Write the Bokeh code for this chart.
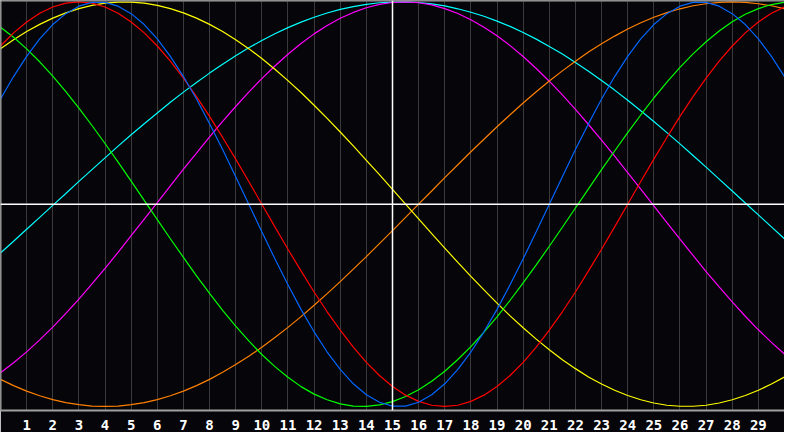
from bokeh.plotting import figure
from bokeh.models import ColumnDataSource, Span, FixedTicker
from bokeh.embed import file_html
from bokeh.resources import INLINE

# Half-day steps from day 0 to day 30, today is day 15
days = [d / 2 for d in range(61)]
day_ticks = list(range(1, 30))
today = 15

# Cycle values, every half day
physical = [0.520, 0.631, 0.731, 0.817, 0.888, 0.942, 0.979, 0.998, 0.998, 0.979,
            0.942, 0.888, 0.817, 0.731, 0.631, 0.520, 0.398, 0.270, 0.136, 0.000,
            -0.136, -0.270, -0.398, -0.520, -0.631, -0.731, -0.817, -0.888, -0.942, -0.979,
            -0.998, -0.998, -0.979, -0.942, -0.888, -0.817, -0.731, -0.631, -0.520, -0.398,
            -0.270, -0.136, 0.000, 0.136, 0.270, 0.398, 0.520, 0.631, 0.731, 0.817,
            0.888, 0.942, 0.979, 0.998, 0.998, 0.979, 0.942, 0.888, 0.817, 0.731,
            0.631]
emotional = [0.782, 0.847, 0.901, 0.944, 0.975, 0.994, 1.000, 0.994, 0.975, 0.944,
             0.901, 0.847, 0.782, 0.707, 0.623, 0.532, 0.434, 0.330, 0.223, 0.112,
             0.000, -0.112, -0.223, -0.330, -0.434, -0.532, -0.623, -0.707, -0.782, -0.847,
             -0.901, -0.944, -0.975, -0.994, -1.000, -0.994, -0.975, -0.944, -0.901, -0.847,
             -0.782, -0.707, -0.623, -0.532, -0.434, -0.330, -0.223, -0.112, 0.000, 0.112,
             0.223, 0.330, 0.434, 0.532, 0.623, 0.707, 0.782, 0.847, 0.901, 0.944,
             0.975]
intellectual = [0.875, 0.825, 0.768, 0.704, 0.633, 0.557, 0.475, 0.389, 0.300, 0.208,
                0.114, 0.019, -0.076, -0.171, -0.263, -0.354, -0.441, -0.525, -0.603, -0.676,
                -0.743, -0.803, -0.856, -0.902, -0.939, -0.967, -0.987, -0.998, -1.000, -0.992,
                -0.976, -0.951, -0.917, -0.875, -0.826, -0.768, -0.704, -0.633, -0.557, -0.475,
                -0.389, -0.300, -0.208, -0.114, -0.019, 0.076, 0.171, 0.263, 0.354, 0.441,
                0.525, 0.603, 0.676, 0.743, 0.803, 0.856, 0.902, 0.939, 0.967, 0.987,
                0.998]
intuitive = [-0.833, -0.784, -0.730, -0.671, -0.608, -0.540, -0.469, -0.394, -0.317, -0.238,
             -0.156, -0.074, 0.008, 0.091, 0.173, 0.253, 0.333, 0.409, 0.483, 0.554,
             0.621, 0.683, 0.741, 0.794, 0.842, 0.883, 0.919, 0.948, 0.971, 0.988,
             0.997, 1.000, 0.996, 0.985, 0.967, 0.943, 0.912, 0.875, 0.833, 0.784,
             0.730, 0.671, 0.608, 0.540, 0.469, 0.394, 0.317, 0.238, 0.156, 0.074,
             -0.008, -0.091, -0.173, -0.253, -0.333, -0.409, -0.483, -0.554, -0.621, -0.683,
             -0.741]
aesthetic = [0.769, 0.813, 0.854, 0.889, 0.920, 0.946, 0.967, 0.983, 0.994, 0.999,
             0.999, 0.994, 0.983, 0.967, 0.946, 0.920, 0.889, 0.854, 0.813, 0.769,
             0.720, 0.667, 0.611, 0.552, 0.489, 0.424, 0.357, 0.288, 0.217, 0.146,
             0.073, 0.000, -0.073, -0.146, -0.217, -0.288, -0.357, -0.424, -0.489, -0.552,
             -0.611, -0.667, -0.720, -0.769, -0.813, -0.854, -0.889, -0.920, -0.946, -0.967,
             -0.983, -0.994, -0.999, -0.999, -0.994, -0.983, -0.967, -0.946, -0.920, -0.889,
             -0.854]
awareness = [-0.866, -0.897, -0.924, -0.947, -0.966, -0.981, -0.991, -0.998, -1.000, -0.998,
             -0.991, -0.981, -0.966, -0.947, -0.924, -0.897, -0.866, -0.831, -0.793, -0.752,
             -0.707, -0.659, -0.609, -0.556, -0.500, -0.442, -0.383, -0.321, -0.259, -0.195,
             -0.131, -0.065, 0.000, 0.065, 0.131, 0.195, 0.259, 0.321, 0.383, 0.442,
             0.500, 0.556, 0.609, 0.659, 0.707, 0.752, 0.793, 0.831, 0.866, 0.897,
             0.924, 0.947, 0.966, 0.981, 0.991, 0.998, 1.000, 0.998, 0.991, 0.981,
             0.966]
spiritual = [-0.241, -0.183, -0.124, -0.065, -0.006, 0.053, 0.113, 0.171, 0.229, 0.287,
             0.343, 0.398, 0.451, 0.504, 0.554, 0.602, 0.648, 0.692, 0.734, 0.773,
             0.809, 0.843, 0.873, 0.900, 0.924, 0.945, 0.963, 0.977, 0.988, 0.996,
             0.999, 1.000, 0.997, 0.990, 0.980, 0.966, 0.949, 0.929, 0.905, 0.879,
             0.849, 0.816, 0.780, 0.742, 0.701, 0.657, 0.612, 0.564, 0.514, 0.462,
             0.409, 0.354, 0.298, 0.241, 0.183, 0.124, 0.065, 0.006, -0.053, -0.112,
             -0.171]

series = [
    ("spiritual", spiritual, "#00ffff"),
    ("intuitive", intuitive, "#ff00ff"),
    ("awareness", awareness, "#ff8000"),
    ("aesthetic", aesthetic, "#ffff00"),
    ("intellectual", intellectual, "#00ff00"),
    ("emotional", emotional, "#ff0000"),
    ("physical", physical, "#0066ff"),
]


def create_figure():
    # Black chart, no toolbar, fills the window
    p = figure(width=784, height=432, x_range=(0, 30), y_range=(-1.02, 1.007),
               toolbar_location=None, output_backend="svg")
    p.background_fill_color = "#060509"
    p.border_fill_color = "#060509"
    p.outline_line_color = None
    p.min_border_left = 0
    p.min_border_right = 0
    p.min_border_top = 0
    p.min_border_bottom = 19
    p.yaxis.visible = False
    p.ygrid.visible = False
    return p


def style_axis(p):
    # Day numbers under the vertical lines
    p.xaxis.ticker = FixedTicker(ticks=day_ticks)
    p.xaxis.major_tick_line_color = None
    p.xaxis.minor_tick_line_color = None
    p.xaxis.axis_line_color = "#a0a0a0"
    p.xaxis.axis_line_width = 2
    p.xaxis.major_label_text_color = "white"
    p.xaxis.major_label_text_font = "DejaVu Sans Mono"
    p.xaxis.major_label_text_font_style = "bold"
    p.xaxis.major_label_text_font_size = "14px"
    p.xaxis.major_label_standoff = 3
    p.xgrid.ticker = FixedTicker(ticks=day_ticks)
    p.xgrid.grid_line_color = "#3a3a3a"
    p.xgrid.grid_line_width = 1


def add_frame(p):
    # Left and top border, today line and zero line
    p.add_layout(Span(location=0, dimension="height", line_color="#a0a0a0", line_width=2))
    p.add_layout(Span(location=1.007, dimension="width", line_color="#a0a0a0", line_width=2))
    p.add_layout(Span(location=today, dimension="height", line_color="white", line_width=1.5))
    p.add_layout(Span(location=0, dimension="width", line_color="white", line_width=1.5))


def add_lines(p):
    # One line per cycle
    for name, values, color in series:
        source = ColumnDataSource(data=dict(day=days, value=values))
        p.line(x="day", y="value", source=source, color=color, line_width=1.2)


if __name__ == "__main__":
    p = create_figure()
    style_axis(p)
    add_frame(p)
    add_lines(p)
    open("out.html", "w").write(file_html(p, INLINE))
